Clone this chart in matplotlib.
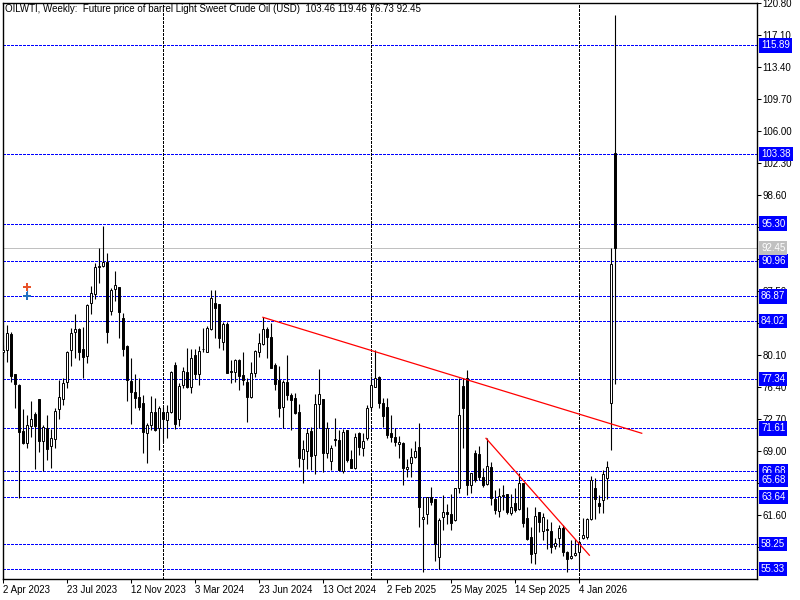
import matplotlib
matplotlib.use("Agg")
import matplotlib.pyplot as plt
import matplotlib.transforms as mtransforms

# OILWTI weekly bars, first bar = week of 2 Apr 2023
opens = [80.45, 80.68, 82.53, 77.87, 76.63, 71.32, 69.97, 71.86, 73.25, 75.02,
         70.20, 71.67, 69.62, 70.36, 73.82, 74.98, 76.95, 80.65, 82.73, 83.11,
         80.80, 80.02, 86.08, 87.19, 90.25, 90.43, 90.83, 85.23, 87.73, 87.97,
         84.35, 81.15, 77.13, 75.86, 75.28, 74.52, 71.06, 71.98, 73.48, 71.63,
         73.48, 72.59, 73.55, 78.95, 72.67, 76.63, 78.17, 76.37, 80.10, 77.91,
         80.76, 80.48, 83.07, 86.08, 86.00, 81.65, 83.69, 78.26, 78.17, 79.53,
         77.79, 77.02, 75.28, 77.98, 80.48, 81.34, 83.11, 82.15, 78.95, 77.21,
         74.13, 77.02, 75.48, 75.10, 73.48, 68.04, 69.04, 71.32, 68.54, 74.40,
         75.02, 68.81, 67.89, 70.36, 70.27, 66.73, 71.43, 68.04, 67.07, 71.06,
         69.32, 70.47, 74.06, 76.44, 77.59, 74.52, 74.13, 71.06, 70.66, 69.81,
         69.97, 66.89, 67.58, 68.35, 69.50, 61.11, 61.72, 63.65, 63.42, 56.72,
         61.34, 61.92, 61.72, 61.03, 64.69, 76.52, 77.41, 65.07, 68.81, 68.66,
         65.96, 65.19, 67.19, 63.42, 62.11, 63.92, 64.03, 61.88, 62.96, 62.27,
         65.27, 61.22, 59.10, 57.18, 61.99, 59.79, 59.93, 59.76, 58.02, 58.91,
         60.07, 57.37, 56.60, 56.98, 57.37, 58.91, 59.03, 61.11, 64.69, 63.03,
         63.34, 65.85, 74.59, 103.46]
highs = [81.26, 83.57, 82.73, 77.90, 76.70, 73.86, 73.17, 74.78, 73.55, 75.05,
         72.05, 73.17, 71.49, 74.01, 77.21, 77.41, 80.57, 83.19, 84.84, 83.26,
         83.37, 85.95, 88.11, 90.71, 92.44, 95.02, 91.87, 87.88, 89.82, 88.00,
         84.93, 81.20, 79.72, 77.94, 77.41, 75.48, 72.21, 75.36, 75.10, 74.21,
         74.06, 74.32, 78.29, 79.33, 76.83, 78.75, 80.87, 80.76, 80.76, 81.18,
         83.19, 83.46, 87.62, 87.62, 86.05, 83.96, 83.96, 79.53, 79.61, 79.61,
         80.48, 77.41, 79.33, 80.68, 82.61, 84.46, 83.37, 83.77, 79.14, 78.83,
         77.21, 80.10, 75.67, 75.67, 74.40, 70.27, 71.63, 71.81, 75.56, 78.49,
         75.05, 72.39, 69.70, 72.79, 71.43, 71.51, 71.45, 69.12, 71.06, 71.24,
         71.06, 74.32, 77.68, 80.68, 77.62, 75.10, 75.10, 73.17, 71.70, 70.74,
         70.00, 68.04, 69.39, 70.16, 72.21, 63.72, 63.72, 64.81, 63.45, 61.22,
         63.92, 62.88, 64.03, 64.69, 77.41, 77.41, 78.37, 66.50, 69.12, 69.58,
         67.00, 70.47, 67.77, 64.50, 64.69, 65.07, 64.05, 64.03, 64.69, 66.50,
         65.30, 62.56, 60.25, 62.56, 62.00, 61.80, 61.11, 60.83, 58.91, 60.45,
         60.45, 57.40, 58.72, 58.80, 58.72, 61.22, 61.22, 66.12, 65.85, 63.92,
         66.81, 67.85, 92.44, 119.46]
lows = [79.99, 79.33, 77.02, 73.94, 63.54, 69.78, 69.31, 70.58, 66.92, 68.92,
        66.69, 67.96, 67.00, 69.32, 72.67, 74.32, 76.32, 78.83, 79.72, 79.52,
        77.48, 79.14, 84.84, 86.58, 88.43, 90.32, 81.46, 84.73, 86.35, 82.04,
        80.02, 74.82, 72.09, 74.01, 73.74, 68.74, 67.65, 71.43, 71.32, 69.12,
        70.08, 70.47, 73.44, 71.51, 71.86, 76.25, 76.25, 75.75, 77.29, 76.63,
        80.48, 80.48, 82.99, 82.04, 80.88, 80.68, 77.99, 76.83, 77.02, 76.06,
        76.63, 72.39, 75.10, 77.59, 79.91, 81.26, 79.72, 78.57, 76.06, 72.90,
        71.63, 74.90, 71.43, 73.28, 67.19, 65.27, 66.89, 66.81, 66.31, 71.63,
        66.61, 68.16, 66.81, 69.62, 66.73, 66.50, 67.77, 67.00, 66.92, 68.54,
        68.42, 70.27, 73.74, 76.37, 73.94, 71.81, 70.47, 70.08, 69.58, 68.23,
        65.07, 66.04, 66.04, 68.16, 60.25, 55.03, 60.56, 62.76, 56.32, 55.33,
        59.87, 60.56, 59.87, 60.95, 64.11, 69.31, 63.92, 64.11, 65.46, 65.65,
        64.88, 65.07, 62.76, 61.72, 61.41, 62.19, 61.72, 61.61, 61.99, 62.19,
        60.25, 58.72, 56.02, 55.94, 59.68, 58.72, 57.64, 57.25, 57.64, 57.94,
        56.87, 55.03, 56.48, 56.87, 55.33, 58.80, 58.80, 61.03, 61.11, 61.80,
        61.80, 63.42, 69.12, 76.73]
closes = [80.68, 82.61, 77.71, 76.72, 71.24, 69.97, 71.97, 72.71, 71.86, 70.20,
          71.82, 69.20, 70.47, 73.63, 75.28, 76.83, 80.48, 82.61, 83.11, 80.48,
          79.91, 85.88, 87.24, 90.25, 90.40, 90.83, 82.73, 87.62, 88.20, 85.11,
          80.76, 77.21, 75.86, 75.17, 74.13, 71.17, 71.98, 73.48, 71.43, 74.01,
          72.67, 73.55, 78.17, 72.13, 76.52, 78.29, 76.44, 79.79, 77.91, 80.57,
          80.80, 83.19, 86.66, 85.50, 82.04, 83.69, 78.06, 78.14, 79.53, 77.71,
          77.21, 75.21, 77.98, 80.57, 81.46, 83.07, 82.15, 78.64, 76.72, 73.94,
          77.02, 75.48, 74.90, 73.44, 68.16, 69.20, 71.12, 68.46, 74.40, 75.56,
          68.81, 71.63, 69.32, 70.27, 66.81, 71.17, 67.96, 67.07, 70.66, 69.50,
          70.16, 74.01, 76.63, 77.41, 74.52, 73.09, 70.85, 70.58, 70.08, 70.08,
          67.00, 67.19, 68.35, 69.01, 62.56, 61.41, 63.65, 63.15, 58.25, 61.03,
          61.92, 61.69, 60.72, 64.69, 73.17, 73.94, 65.07, 66.43, 65.65, 66.04,
          65.07, 67.27, 63.54, 62.19, 63.80, 63.80, 61.99, 62.56, 62.19, 65.27,
          60.64, 58.80, 57.10, 61.49, 60.83, 61.41, 59.81, 57.94, 58.40, 60.07,
          57.37, 56.48, 56.87, 57.25, 58.52, 59.29, 61.11, 65.65, 63.42, 62.65,
          66.35, 67.19, 90.59, 92.45]

# horizontal levels drawn on the chart
levels = [115.89, 103.38, 95.30, 90.96, 86.87, 84.02, 77.34, 71.61,
          66.68, 65.68, 63.64, 58.25, 55.33]
bid = 92.45

# trend lines (bar index, price)
trend1_x = [65.0, 159.75]
trend1_y = [84.46, 71.05]
trend2_x = [120.8, 146.65]
trend2_y = [70.47, 56.95]

# year separators (bar index)
year_bars = [40, 92, 144]

# trade arrows
arrow_bar = 6
arrow_sell = 87.99
arrow_buy = 86.87

date_ticks = [0, 16, 32, 48, 64, 80, 96, 112, 128, 144]
date_labels = ["2 Apr 2023", "23 Jul 2023", "12 Nov 2023", "3 Mar 2024",
               "23 Jun 2024", "13 Oct 2024", "2 Feb 2025", "25 May 2025",
               "14 Sep 2025", "4 Jan 2026"]
price_ticks = [57.90, 61.60, 65.30, 69.00, 72.70, 76.40, 80.10, 83.80, 87.50,
               91.20, 94.90, 98.60, 102.30, 106.00, 109.70, 113.40, 117.10, 120.80]
# these scale labels sit fully under a level label in the terminal
hidden_ticks = [65.30, 83.80, 91.20]

plt.rcParams['font.family'] = ['Liberation Sans', 'DejaVu Sans']

fig = plt.figure(figsize=(8, 6), dpi=100)
ax = fig.add_axes([3 / 800, 21 / 600, 754 / 800, 576 / 600])
ax.set_xlim(0.075, 188.575)
ax.set_ylim(54.20, 120.80)

dash = (0, (3, 2))
for lv in levels:
    ax.axhline(lv, color='#0000ff', lw=0.7, ls=dash, zorder=1, antialiased=False)
ax.axhline(bid, color='#c0c0c0', lw=0.7, zorder=1, antialiased=False)
for yb in year_bars:
    ax.axvline(yb, color='black', lw=0.7, ls=dash, zorder=1, antialiased=False)

xs = list(range(len(opens)))
ax.vlines(xs, lows, highs, color='black', lw=0.8, zorder=2)
bottoms = [min(o, c) for o, c in zip(opens, closes)]
heights = [max(abs(c - o), 0.06) for o, c in zip(opens, closes)]
faces = ['white' if c >= o else 'black' for o, c in zip(opens, closes)]
ax.bar(xs, heights, bottom=bottoms, width=0.6, color=faces,
       edgecolor='black', linewidth=0.7, zorder=3)

ax.plot(trend1_x, trend1_y, color='red', lw=0.9, zorder=4)
ax.plot(trend2_x, trend2_y, color='red', lw=0.9, zorder=4)

ax.plot([arrow_bar, arrow_bar], [arrow_buy, arrow_sell], color='#1f6fbf', lw=0.8, zorder=4)
ax.plot(arrow_bar, arrow_sell, marker='P', ms=5.5, color='#e8532a', mew=0, zorder=5)
ax.plot(arrow_bar, arrow_buy, marker='P', ms=5.5, color='#1f6fbf', mew=0, zorder=5)

for s in ax.spines.values():
    s.set_linewidth(1.0)
    s.set_color('black')

ax.yaxis.tick_right()
ax.set_yticks(price_ticks)
ax.set_yticklabels(["" if p in hidden_ticks else f"{p:.2f}" for p in price_ticks])
ax.tick_params(axis='y', direction='out', length=3, width=0.75, pad=1,
               labelsize=7, colors='black')
ax.set_xticks(date_ticks)
ax.set_xticklabels(date_labels, ha='left')
ax.tick_params(axis='x', direction='out', length=3, width=0.75, pad=1,
               labelsize=7)

# price labels on the right scale
trans = mtransforms.blended_transform_factory(ax.transAxes, ax.transData)
lab_x = 1 + 4 / 754
for lv in levels:
    ax.text(lab_x, lv, f"{lv:.2f}", transform=trans, ha='left', va='center',
            fontsize=7, color='white', clip_on=False, zorder=6,
            bbox=dict(boxstyle='square,pad=0.22', fc='#0000ff', ec='none'))
ax.text(lab_x, bid, f"{bid:.2f}", transform=trans, ha='left', va='center',
        fontsize=7, color='white', clip_on=False, zorder=6,
        bbox=dict(boxstyle='square,pad=0.22', fc='#c0c0c0', ec='none'))

fig.text(5 / 800, 1 - 8.5 / 600,
         "OILWTI, Weekly:  Future price of barrel Light Sweet Crude Oil (USD)  "
         "103.46 119.46 76.73 92.45",
         ha='left', va='center', fontsize=7, color='black')

fig.savefig("out.png", dpi=100, facecolor='white')
